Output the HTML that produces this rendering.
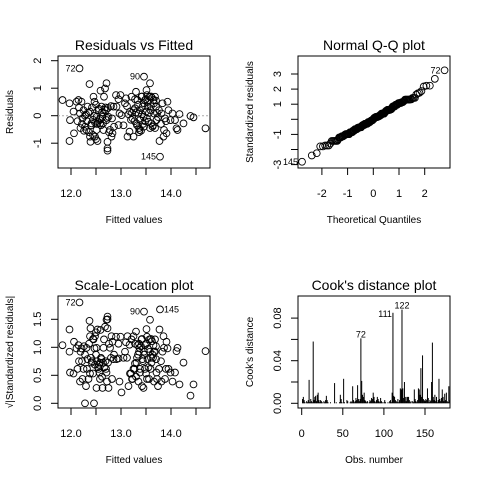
<!DOCTYPE html>
<html><head><meta charset="utf-8"><style>
html,body{margin:0;padding:0;background:#fff;}
svg{display:block;font-family:"Liberation Sans",sans-serif;}
</style></head><body>
<svg id="c" width="480" height="480" viewBox="0 0 480 480"></svg>
<script>
// fitted values and residuals per observation
const fitted=[12.17,11.83,11.97,11.97,11.98,12.06,12.05,12.11,12.15,12.21,12.18,12.25,12.23,12.28,12.31,12.33,12.37,12.38,12.41,12.38,12.39,12.45,12.47,12.48,12.51,12.53,12.51,12.55,12.57,12.58,12.59,12.61,12.63,12.65,12.66,12.68,12.71,12.70,12.71,12.73,12.73,12.73,12.75,12.78,12.81,12.83,12.85,12.86,12.90,12.91,12.95,12.97,12.99,13.01,13.08,13.10,13.13,13.17,13.18,13.21,13.23,13.25,13.28,13.30,13.31,13.33,13.35,13.37,13.38,13.46,13.41,13.43,13.45,13.46,13.48,13.50,13.51,13.53,13.55,13.57,13.58,13.59,13.61,13.63,13.65,13.66,13.68,13.70,13.71,13.77,13.78,13.81,13.85,13.86,13.88,13.91,13.93,13.95,13.99,14.03,14.08,14.11,14.13,14.17,14.25,14.39,14.45,14.69,
12.30,12.32,12.35,12.40,12.42,12.44,12.46,12.48,12.50,12.52,12.54,12.56,12.58,12.60,12.62,12.64,12.67,12.69,12.72,12.74,12.76,12.80,12.82,12.22,12.26,12.19,12.13,12.16,12.28,12.36,12.44,12.50,
13.22,13.25,13.27,13.30,13.32,13.34,13.36,13.38,13.40,13.42,13.44,13.46,13.48,13.50,13.52,13.54,13.56,13.58,13.60,13.62,13.64,13.66,13.68,13.70,13.72,13.74,13.76,13.80,13.83,13.90,13.36,13.42,13.52,13.60,13.28,13.15,13.05,12.95,13.12,13.20];
const residuals=[1.72,0.57,0.45,-0.92,-0.16,-0.64,0.15,0.51,0.57,0.51,0.08,0.20,-0.10,-0.40,-0.52,0.33,1.15,0.15,-0.28,-0.76,-0.95,0.69,0.51,-0.76,-0.52,-0.92,-0.04,0.20,-0.16,-0.28,0.91,0.33,-0.04,-0.52,0.69,0.99,1.18,0.20,-0.16,-0.95,-1.19,-1.27,-0.04,-0.52,-0.76,-0.64,0.33,-0.40,0.75,0.33,-0.34,0.08,0.75,0.02,0.45,0.63,-0.76,-0.58,0.15,0.69,-0.10,-0.76,0.27,0.87,-0.28,0.57,0.08,-0.52,-0.16,1.42,0.69,0.33,-0.04,-0.40,0.57,0.15,0.93,0.33,-0.22,0.69,1.18,0.20,-0.28,-0.40,0.57,0.08,0.69,0.33,-0.16,-0.92,-1.49,0.08,-0.76,-0.52,-0.10,-0.64,0.51,0.20,-0.16,0.08,-0.16,-0.46,-0.52,0.06,-0.28,-0.01,-0.06,-0.46,
0.05,-0.20,0.10,-0.35,0.30,-0.15,0.00,-0.25,0.40,-0.30,-0.22,0.25,-0.10,-0.35,0.12,-0.28,0.22,0.30,-0.08,0.28,-0.60,0.35,-0.10,-0.30,-0.55,-0.45,-0.20,0.30,0.00,-0.60,-0.70,-0.85,
0.10,0.20,-0.20,0.12,-0.35,0.40,-0.45,0.20,-0.55,0.05,-0.30,0.45,-0.20,0.60,-0.10,0.50,0.10,-0.45,0.35,0.65,-0.35,0.45,-0.45,0.55,0.10,-0.05,0.20,-0.30,0.45,-0.20,-0.60,0.70,0.75,0.70,0.60,0.05,-0.35,0.60,0.35,-0.15];
const residLabels=["72","90","145"];
const sigma=0.53;
// Cook's distance by observation number
const cooks=[.004,.006,.003,.001,.000,.002,.001,.003,.022,.001,
.004,.002,.001,.058,.003,.006,.007,.002,.008,.010,
.003,.001,.003,.002,.001,.000,.002,.001,.003,.007,
.003,.001,.000,.000,.001,.000,.000,.000,.000,.019,
.000,.001,.000,.000,.000,.001,.008,.004,.001,.000,
.023,.001,.000,.000,.003,.002,.000,.000,.001,.002,
.001,.016,.003,.001,.002,.005,.003,.017,.004,.002,
.004,.061,.021,.008,.006,.010,.003,.002,.001,.002,
.000,.001,.003,.002,.005,.004,.010,.006,.002,.001,
.003,.006,.004,.002,.001,.005,.002,.001,.000,.001,
.003,.001,.000,.000,.001,.000,.002,.003,.001,.010,
.085,.007,.006,.003,.002,.001,.004,.001,.003,.014,
.013,.088,.014,.005,.020,.006,.002,.006,.006,.006,
.003,.001,.002,.000,.002,.001,.013,.004,.002,.001,
.003,.014,.013,.008,.033,.006,.045,.004,.003,.002,
.004,.003,.014,.005,.001,.003,.002,.020,.057,.006,
.003,.008,.002,.006,.001,.003,.023,.004,.002,.005,
.013,.006,.002,.009,.003,.010,.002,.001,.016,.003];
const fitTicks=[12.0,12.5,13.0,13.5,14.0,14.5];
const fitTickLabels=["12.0","","13.0","","14.0",""];
const resTicks=[-1,0,1,2];
const qqXTicks=[-2,-1,0,1,2];
const qqYTicks=[-3,-2,-1,0,1,2,3];
const qqYLabels=["-3","","-1","","1","2","3"];
const slTicks=[0,0.5,1.0,1.5];
const slLabels=["0.0","0.5","1.0","1.5"];
const ckXTicks=[0,50,100,150];
const ckYTicks=[0,0.02,0.04,0.06,0.08];
const ckYLabels=["0.00","","0.04","","0.08"];

const svg=document.getElementById('c');
const NS="http://www.w3.org/2000/svg";
function mk(tag,attrs,parent,text){const e=document.createElementNS(NS,tag);for(const k in attrs)e.setAttribute(k,attrs[k]);if(text!==undefined)e.textContent=text;(parent||svg).appendChild(e);return e;}
function lin(d0,d1,p0,p1){return v=>p0+(v-d0)*(p1-p0)/(d1-d0);}
function qnorm(p){const a=[-39.69683028665376,220.9460984245205,-275.9285104469687,138.3577518672690,-30.66479806614716,2.506628277459239],b=[-54.47609879822406,161.5858368580409,-155.6989798598866,66.80131188771972,-13.28068155288572],c=[-0.007784894002430293,-0.3223964580411365,-2.400758277161838,-2.549732539343734,4.374664141464968,2.938163982698783],d=[0.007784695709041462,0.3224671290700398,2.445134137142996,3.754408661907416];
 let q,r;if(p<0.02425){q=Math.sqrt(-2*Math.log(p));return(((((c[0]*q+c[1])*q+c[2])*q+c[3])*q+c[4])*q+c[5])/((((d[0]*q+d[1])*q+d[2])*q+d[3])*q+1);}
 if(p>1-0.02425){q=Math.sqrt(-2*Math.log(1-p));return-(((((c[0]*q+c[1])*q+c[2])*q+c[3])*q+c[4])*q+c[5])/((((d[0]*q+d[1])*q+d[2])*q+d[3])*q+1);}
 q=p-0.5;r=q*q;return(((((a[0]*r+a[1])*r+a[2])*r+a[3])*r+a[4])*r+a[5])*q/(((((b[0]*r+b[1])*r+b[2])*r+b[3])*r+b[4])*r+1);}

function panel(name,box,title,xlab,ylab,xs,ys,xt,xl,yt,yl){
 const g=mk('g',{},svg);
 const r=mk('rect',{x:box[0],y:box[1],width:box[2]-box[0],height:box[3]-box[1],fill:'none',stroke:'#000','stroke-width':1},g);
 
 const cx=(box[0]+box[2])/2, cy=(box[1]+box[3])/2;
 const t=mk('text',{x:cx,y:box[1]-6,'text-anchor':'middle','font-size':14},g,title);
 
 const xlb=mk('text',{x:cx,y:box[3]+55,'text-anchor':'middle','font-size':10},g,xlab);
 
 const ylb=mk('text',{x:0,y:0,'text-anchor':'middle','font-size':10,transform:`translate(${box[0]-45},${cy}) rotate(-90)`},g,ylab);
 
 xt.forEach((v,i)=>{const x=xs(v);mk('line',{x1:x,x2:x,y1:box[3],y2:box[3]+7,stroke:'#000'},g);
  if(xl[i]){const e=mk('text',{x:x,y:box[3]+29,'text-anchor':'middle','font-size':11},g,xl[i]);}});
 yt.forEach((v,i)=>{const y=ys(v);mk('line',{x1:box[0]-7,x2:box[0],y1:y,y2:y,stroke:'#000'},g);
  if(yl[i]){const e=mk('text',{x:0,y:0,'text-anchor':'middle','font-size':11,transform:`translate(${box[0]-17},${y}) rotate(-90)`},g,yl[i]);}});
 return g;}
function pt(g,x,y){const c=mk('circle',{cx:x,cy:y,r:3.4,fill:'none',stroke:'#000','stroke-width':0.9},g);
 }
function lab(g,x,y,t,anchor){const e=mk('text',{x:x,y:y,'text-anchor':anchor||'end','font-size':9},g,t);
 }

const n=fitted.length;
const std=residuals.map(r=>r/sigma);
const order=residuals.map((r,i)=>i).sort((a,b)=>residuals[b]-residuals[a]);
const iMax=order[0], i2=order[1], iMin=order[n-1];

// Panel 1
const x1=lin(12,13,71,121), y1=lin(0,1,115.7,88.2);
const g1=panel('residuals-vs-fitted',[58,56,210,168],'Residuals vs Fitted','Fitted values','Residuals',x1,y1,fitTicks,fitTickLabels,resTicks,resTicks.map(String));
const zl=mk('line',{x1:58,x2:210,y1:y1(0),y2:y1(0),stroke:'#aaa','stroke-dasharray':'2,2'},g1);

for(let i=0;i<n;i++)pt(g1,x1(fitted[i]),y1(residuals[i]));
lab(g1,x1(fitted[iMax])-4,y1(residuals[iMax])+3,residLabels[0]);
lab(g1,x1(fitted[i2])-4,y1(residuals[i2])+3,residLabels[1]);
lab(g1,x1(fitted[iMin])-4,y1(residuals[iMin])+3,residLabels[2]);

// Panel 2 QQ
const x2=lin(0,1,373.3,399), y2=lin(0,1,119.3,104.2);
const g2=panel('normal-qq-plot',[298,56,450,168],'Normal Q-Q plot','Theoretical Quantiles','Standardized residuals',x2,y2,qqXTicks,qqXTicks.map(String),qqYTicks,qqYLabels);
const sorted=std.slice().sort((a,b)=>a-b);
for(let i=0;i<n;i++)pt(g2,x2(qnorm((i+0.5)/n)),y2(sorted[i]));
lab(g2,x2(qnorm((n-0.5)/n))-4,y2(sorted[n-1])+3,residLabels[0]);
lab(g2,x2(qnorm(0.5/n))-4,y2(sorted[0])+3,residLabels[2]);

// Panel 3 Scale-Location
const x3=x1, y3=lin(0,1,403.3,347.3);
const g3=panel('scale-location-plot',[58,296,210,408],'Scale-Location plot','Fitted values','\u221A|Standardized residuals|',x3,y3,fitTicks,fitTickLabels,slTicks,slLabels);
for(let i=0;i<n;i++)pt(g3,x3(fitted[i]),y3(Math.sqrt(Math.abs(std[i]))));
lab(g3,x3(fitted[iMax])-4,y3(Math.sqrt(Math.abs(std[iMax])))+3,residLabels[0]);
lab(g3,x3(fitted[i2])-4,y3(Math.sqrt(Math.abs(std[i2])))+3,residLabels[1]);
lab(g3,x3(fitted[iMin])+4,y3(Math.sqrt(Math.abs(std[iMin])))+3,residLabels[2],'start');

// Panel 4 Cook's
const x4=lin(0,150,301.7,425), y4=lin(0,0.04,403.3,360.7);
const g4=panel('cooks-distance-plot',[298,296,450,408],"Cook's distance plot",'Obs. number',"Cook's distance",x4,y4,ckXTicks,ckXTicks.map(String),ckYTicks,ckYLabels);
cooks.forEach((v,i)=>{const x=x4(i+1);const b=mk('line',{x1:x,x2:x,y1:y4(0),y2:y4(v),stroke:'#000','stroke-width':1},g4);
 });
const cOrd=cooks.map((v,i)=>i).sort((a,b)=>cooks[b]-cooks[a]).slice(0,3);
cOrd.forEach(i=>{const x=x4(i+1),y=y4(cooks[i]);
 if(cooks[i]<cooks[cOrd[0]]&&cooks[i]>cooks[cOrd[2]])lab(g4,x-1,y+4,String(i+1),'end');
 else lab(g4,x,y-1,String(i+1),'middle');});
</script>
</body></html>
